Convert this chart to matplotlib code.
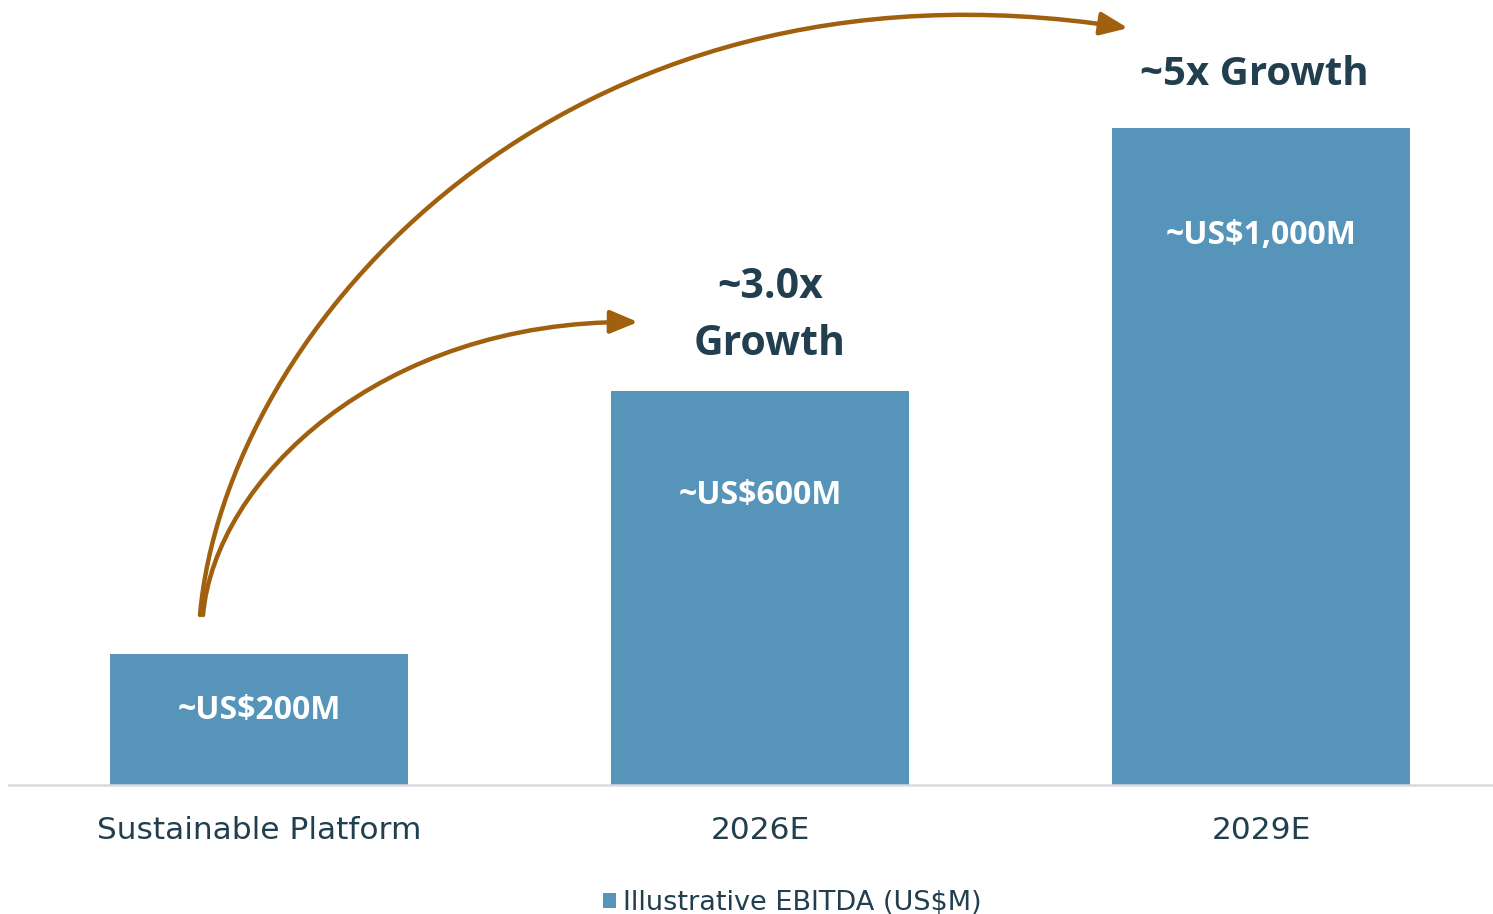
import matplotlib.pyplot as plt
from matplotlib.patches import FancyArrowPatch
from matplotlib.path import Path

# data
categories = ["Sustainable Platform", "2026E", "2029E"]
ebitda = [200, 600, 1000]
bar_labels = ["~US$200M", "~US$600M", "~US$1,000M"]
label_y = [114, 440, 837]
growth_labels = ["~3.0x\nGrowth", "~5x Growth"]
legend_label = "Illustrative EBITDA (US$M)"

bar_color = "#5694BA"
text_color = "#223F4F"
arrow_color = "#A0600E"
bold_font = "Open Sans"

fig = plt.figure(figsize=(14.93, 9.14), dpi=100)
ax = fig.add_axes([9 / 1493, 129 / 914, 1484 / 1493, 785 / 914])

x = list(range(len(categories)))
bars = ax.bar(x, ebitda, width=0.595, color=bar_color, label=legend_label, zorder=2)

ax.set_xlim(-0.499, 2.463)
ax.set_ylim(0, 1195)

for xi, lab, ly in zip(x, bar_labels, label_y):
    ax.text(xi, ly, lab, ha="center", va="center", color="white",
            fontsize=23, fontweight="bold", family=bold_font)

# growth callouts
ax.text(1.02, 714, growth_labels[0], ha="center", va="center", color=text_color,
        fontsize=29.5, fontweight="bold", family=bold_font, linespacing=1.5)
ax.text(1.986, 1081, growth_labels[1], ha="center", va="center", color=text_color,
        fontsize=29, fontweight="bold", family=bold_font)

# curved arrows (cubic bezier, data coords)
def px(xp, yp):
    return ((xp - 259) / 501, (785 - yp) / 0.657)

arrows = [
    [px(203, 615), px(215, 480), px(380, 320), px(638, 322)],
    [px(200, 615), px(225, 330), px(560, -60), px(1128, 28)],
]
for pts in arrows:
    path = Path(pts, [Path.MOVETO, Path.CURVE4, Path.CURVE4, Path.CURVE4])
    arr = FancyArrowPatch(path=path, arrowstyle="-|>,head_length=1.2,head_width=0.5",
                          color=arrow_color, lw=3.2, mutation_scale=14,
                          transform=ax.transData, zorder=3)
    ax.add_patch(arr)

# axes styling
for s in ["top", "right", "left"]:
    ax.spines[s].set_visible(False)
ax.spines["bottom"].set_color("#D9D9E0")
ax.spines["bottom"].set_linewidth(1.8)
ax.set_yticks([])
ax.set_xticks(x)
ax.set_xticklabels(categories, fontsize=22.5, color=text_color, family="DejaVu Sans")
ax.tick_params(axis="x", length=0, pad=22)

fig.legend(handles=[bars], labels=[legend_label], loc="center",
           bbox_to_anchor=(792 / 1493, 11 / 914), frameon=False,
           prop={"family": "DejaVu Sans", "size": 19.5},
           handlelength=0.5, handleheight=0.5, handletextpad=0.25,
           labelcolor=text_color)

fig.savefig("out.png", dpi=100)
